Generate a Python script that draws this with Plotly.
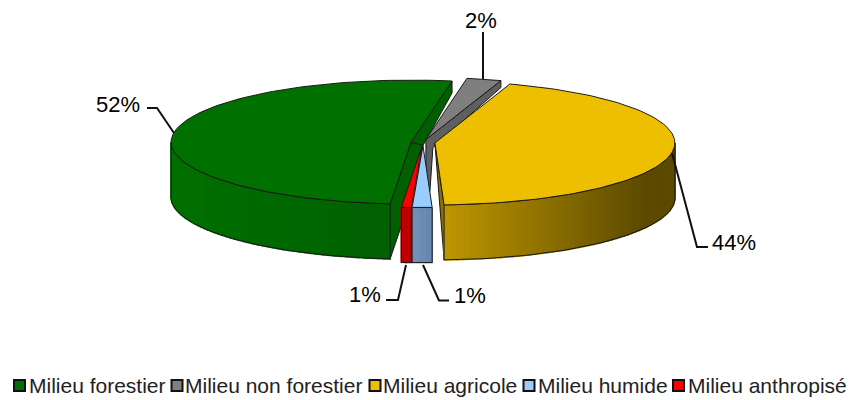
import math
import plotly.graph_objects as go

categories = ["Milieu forestier", "Milieu non forestier", "Milieu agricole", "Milieu humide", "Milieu anthropisé"]
shares = [51.34, 2.33, 44.33, 1.33, 0.67]
tick_labels = ["52%", "2%", "44%", "1%", "1%"]

top_colors = ["#007000", "#7f7f7f", "#eebf00", "#99ccff", "#ff0000"]
wall_left = [(0, 112, 0), (0, 0, 0), (190, 150, 0), (112, 146, 186), (192, 0, 0)]
wall_right = [(0, 98, 0), (0, 0, 0), (92, 74, 0), (104, 136, 172), (192, 0, 0)]
face_colors = ["#006000", "#5f5f5f", "#8a7000", "#6c8eb3", "#c00000"]

W, H = 850, 400
CX, CY = 423, 142.5
A, B = 240, 62
DEPTH = 55
EXPLODE = 0.05
START = 185.0
OUT = "#1a1a1a"

angles = []
t = START
for s in shares:
    a0, a1 = t, t + s * 3.6
    if a0 >= 360:
        a0, a1 = a0 - 360, a1 - 360
    angles.append((a0, a1))
    t += s * 3.6


def edge(ox, oy, th):
    r = math.radians(th)
    return ox + A * math.sin(r), oy - B * math.cos(r)


def arc(ox, oy, a0, a1, n=None):
    n = n or max(2, int(abs(a1 - a0) / 1.5))
    return [edge(ox, oy, a0 + (a1 - a0) * i / n) for i in range(n + 1)]


apex = []
for a0, a1 in angles:
    mid = math.radians((a0 + a1) / 2)
    apex.append((CX + EXPLODE * A * math.sin(mid), CY - EXPLODE * B * math.cos(mid)))

fig = go.Figure()


def poly(pts, fill, line=OUT, width=1):
    xs = [p[0] for p in pts] + [pts[0][0]]
    ys = [p[1] for p in pts] + [pts[0][1]]
    fig.add_trace(go.Scatter(
        x=xs, y=ys, mode="lines", fill="toself", fillcolor=fill,
        line=dict(color=line, width=width),
        hoverinfo="skip", showlegend=False))


def wall(i, a0, a1):
    """Outer wall of slice i between a0 and a1, shaded across its screen width."""
    ox, oy = apex[i]
    n = max(2, int(abs(a1 - a0) / 1.5))
    pts = arc(ox, oy, a0, a1, n)
    lo = min(p[0] for p in pts)
    hi = max(p[0] for p in pts)
    for j in range(n):
        p, q = pts[j], pts[j + 1]
        f = min(1, 1.15 * ((p[0] + q[0]) / 2 - lo) / max(hi - lo, 1))
        c = "rgb(%d,%d,%d)" % tuple(round(wall_left[i][k] + (wall_right[i][k] - wall_left[i][k]) * f) for k in range(3))
        poly([p, q, (q[0], q[1] + DEPTH), (p[0], p[1] + DEPTH)], c, line=c, width=1.5)
    outline = pts + [(x, y + DEPTH) for x, y in reversed(pts)] + [pts[0]]
    fig.add_trace(go.Scatter(x=[p[0] for p in outline], y=[p[1] for p in outline], mode="lines",
                             line=dict(color=OUT, width=1), hoverinfo="skip", showlegend=False))


def top(i):
    ox, oy = apex[i]
    a0, a1 = angles[i]
    poly([(ox, oy)] + arc(ox, oy, a0, a1), top_colors[i])


# green slice: cut faces, wall, top
G, GR, Y, HU, AN = 0, 1, 2, 3, 4
ox, oy = apex[G]
back = edge(ox, oy, angles[G][1])
front = edge(ox, oy, angles[G][0])
poly([(ox, oy), back, (back[0], back[1] + 12), apex[HU]], face_colors[G])
poly([(ox, oy), front, (front[0], front[1] + DEPTH), (ox, oy + DEPTH), apex[HU]], face_colors[G])
wall(G, angles[G][0], 270)
top(G)

# grey slice
ox, oy = apex[GR]
c1 = edge(ox, oy, angles[GR][1])
poly([(ox, oy), c1, (c1[0], c1[1] + 7), (ox + 7, oy + 8), (ox + 4, oy + 52), (ox, oy + 50)], face_colors[GR])
top(GR)

# yellow slice
ox, oy = apex[Y]
c0 = edge(ox, oy, angles[Y][1])
poly([(ox, oy), c0, (c0[0], c0[1] + DEPTH)], face_colors[Y])
wall(Y, 90, angles[Y][1])
top(Y)

# wetland and built-up slices
for i in (HU, AN):
    top(i)
    wall(i, angles[i][0], angles[i][1])

# leader lines
leaders = [
    ([147, 157, 174], [108, 108, 133]),
    ([483, 483], [32, 79]),
    ([672, 697, 708], [153, 247, 247]),
    ([406, 398, 386], [265, 300, 300]),
    ([423, 439, 449], [265, 300.5, 300.5]),
]
for xs, ys in leaders:
    fig.add_trace(go.Scatter(x=xs, y=ys, mode="lines", line=dict(color="#111111", width=2),
                             hoverinfo="skip", showlegend=False))

label_pos = [(118, 104), (481, 20), (734, 242), (365, 294), (470, 295)]
annotations = []
for txt, (x, y) in zip(tick_labels, label_pos):
    annotations.append(dict(x=x, y=y, xref="x", yref="y", text=txt, showarrow=False,
                            font=dict(family="Liberation Sans", size=22, color="#000000"),
                            xanchor="center", yanchor="middle"))

# legend row
swatch_x = [19.5, 177, 375, 529, 678.5]
text_x = [30, 186, 384, 539, 689]
fig.add_trace(go.Scatter(
    x=swatch_x, y=[385.5] * 5, mode="markers",
    marker=dict(symbol="square", size=11, color=top_colors, line=dict(color="#111111", width=2)),
    hoverinfo="skip", showlegend=False))
for txt, x in zip(categories, text_x):
    annotations.append(dict(x=x, y=385, xref="x", yref="y", text=txt, showarrow=False,
                            font=dict(family="Liberation Sans", size=21, color="#222222"),
                            xanchor="left", yanchor="middle", xshift=-3))

fig.update_layout(
    width=W, height=H, margin=dict(l=0, r=0, t=0, b=0),
    paper_bgcolor="white", plot_bgcolor="white", showlegend=False,
    xaxis=dict(range=[0, W], visible=False, fixedrange=True),
    yaxis=dict(range=[H, 0], visible=False, fixedrange=True),
    annotations=annotations,
)
fig.write_html("out.html", config={"displayModeBar": False},
               post_script="document.body.style.margin='0';document.documentElement.style.overflow='hidden';")
